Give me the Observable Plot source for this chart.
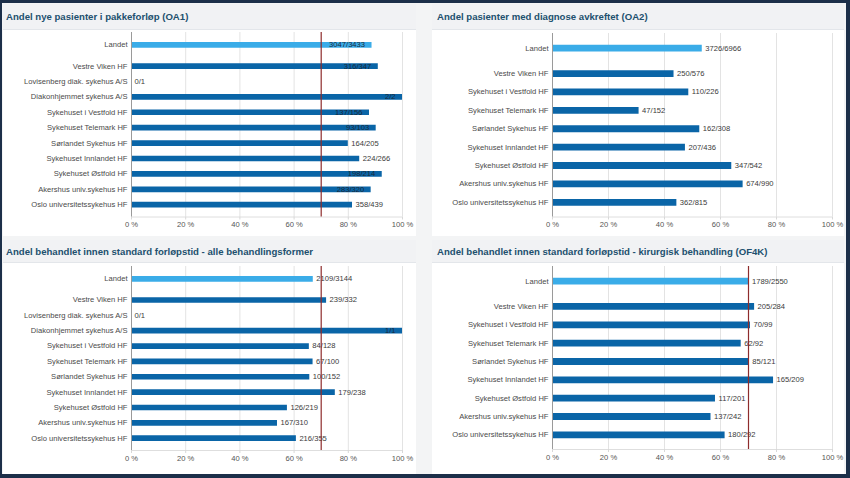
<!DOCTYPE html>
<html>
<head>
<meta charset="utf-8">
<script src="https://cdn.jsdelivr.net/npm/d3@7"></script>
<script src="https://cdn.jsdelivr.net/npm/@observablehq/plot@0.6"></script>
<style>
  body { margin: 0; background: #1c2f49; }
  #frame { position: relative; width: 850px; height: 478px; background: #1c2f49; overflow: hidden; font-family: "Liberation Sans", Arial, sans-serif; }
  .inner { position: absolute; left: 2px; top: 3px; width: 844px; height: 471px; background: #f3f4f5; }
  .panel { position: absolute; background: #ffffff; }
  .title { position: absolute; left: 0; top: 0; right: 0; height: 25px; line-height: 25px; background: #f1f2f4; border-bottom: 1px solid #e3e6ea; color: #21506e; font-weight: bold; font-size: 9.6px; padding-left: 3px; white-space: nowrap; }
  .chart { position: absolute; }
</style>
</head>
<body>
<div id="frame">
  <div class="inner"></div>
  <div class="panel" style="left:3px;top:4px;width:413px;height:232px"><div class="title">Andel nye pasienter i pakkeforløp (OA1)</div></div>
  <div class="panel" style="left:432px;top:4px;width:412px;height:232px"><div class="title" style="padding-left:5px">Andel pasienter med diagnose avkreftet (OA2)</div></div>
  <div class="panel" style="left:3px;top:240px;width:413px;height:234px"><div class="title" style="height:22px;line-height:23px">Andel behandlet innen standard forløpstid - alle behandlingsformer</div></div>
  <div class="panel" style="left:432px;top:240px;width:412px;height:234px"><div class="title" style="height:22px;line-height:23px;padding-left:5px">Andel behandlet innen standard forløpstid - kirurgisk behandling (OF4K)</div></div>
  <div id="c1" class="chart" style="left:0px;top:28px"></div>
  <div id="c2" class="chart" style="left:425px;top:28px"></div>
  <div id="c3" class="chart" style="left:0px;top:262px"></div>
  <div id="c4" class="chart" style="left:425px;top:262px"></div>
</div>
<script>
// ---- Data ----
const unitsA = ["Landet", "Vestre Viken HF", "Lovisenberg diak. sykehus A/S", "Diakonhjemmet sykehus A/S",
  "Sykehuset i Vestfold HF", "Sykehuset Telemark HF", "Sørlandet Sykehus HF", "Sykehuset Innlandet HF",
  "Sykehuset Østfold HF", "Akershus univ.sykehus HF", "Oslo universitetssykehus HF"];
const unitsB = ["Landet", "Vestre Viken HF", "Sykehuset i Vestfold HF", "Sykehuset Telemark HF",
  "Sørlandet Sykehus HF", "Sykehuset Innlandet HF", "Sykehuset Østfold HF", "Akershus univ.sykehus HF",
  "Oslo universitetssykehus HF"];

// OA1: Andel nye pasienter i pakkeforløp
const oa1Num = [3047, 316, 0, 2, 137, 93, 164, 224, 198, 283, 358];
const oa1Den = [3433, 347, 1, 2, 156, 103, 205, 266, 214, 320, 439];
// OA2: Andel pasienter med diagnose avkreftet
const oa2Num = [3726, 250, 110, 47, 162, 207, 347, 674, 362];
const oa2Den = [6966, 576, 226, 152, 308, 436, 542, 990, 815];
// Alle behandlingsformer
const allNum = [2109, 239, 0, 1, 84, 67, 100, 179, 126, 167, 216];
const allDen = [3144, 332, 1, 1, 128, 100, 152, 238, 219, 310, 355];
// OF4K: kirurgisk behandling
const kirNum = [1789, 205, 70, 62, 85, 165, 117, 137, 180];
const kirDen = [2550, 284, 99, 92, 121, 209, 201, 242, 292];

const xTicks = [0, 20, 40, 60, 80, 100];
const target = 70; // målnivå (%)

// ---- Layout constants ----
const GAP = 1.38;  // extra space after "Landet"
const PAD = 0.8;
const colLandet = "#3aace8";
const colUnit = "#0a65a7";

function chart({units, num, den, ref, width, height, mL, mR, mT, mB}) {
  const rows = units.map((u, i) => ({
    name: u, label: num[i] + "/" + den[i], pct: num[i] / den[i] * 100,
    pos: i === 0 ? 0 : GAP + i - 1, land: i === 0
  }));
  const last = rows[rows.length - 1].pos;
  const plotW = width - mL - mR;
  const plotH = height - mT - mB;
  const step = plotH / (last + 2 * PAD);
  rows.forEach(r => {
    const w = r.label.length * 4.1;
    r.inside = r.pct / 100 * plotW + 4 + w > plotW - 6;
  });
  const marks = [
    Plot.ruleX(xTicks.slice(1), {stroke: "#e3e3e3"}),
    Plot.ruleY([last + PAD], {stroke: "#dedede"}),
    Plot.axisX({ticks: xTicks, tickFormat: d => d + " %", tickSize: 3, tickPadding: 2, stroke: "#d8d8d8", fill: "#555", label: null}),
    Plot.ruleY(rows.filter(r => r.land), {y: "pos", x1: 0, x2: "pct", stroke: colLandet, strokeWidth: step * 0.37}),
    Plot.ruleY(rows.filter(r => !r.land), {y: "pos", x1: 0, x2: "pct", stroke: colUnit, strokeWidth: step * 0.37}),
    Plot.ruleX([0], {stroke: "#9a9a9a"}),
    Plot.text(rows, {x: 0, y: "pos", text: "name", textAnchor: "end", dx: -4, fill: "#4a4a4a"}),
    Plot.text(rows.filter(r => !r.inside), {x: "pct", y: "pos", text: "label", textAnchor: "start", dx: 3, fill: "#3a3a3a"}),
    Plot.text(rows.filter(r => r.inside), {x: "pct", y: "pos", text: "label", textAnchor: "end", dx: -7, fill: "#1b2a3a"})
  ];
  if (ref != null) marks.push(Plot.ruleX([ref], {stroke: "#8e2c2c", strokeWidth: 1.2}));
  return Plot.plot({
    width, height, marginLeft: mL, marginRight: mR, marginTop: mT, marginBottom: mB,
    style: {fontFamily: "'Liberation Sans', Arial, sans-serif", fontSize: "7.6px", background: "transparent", color: "#555", overflow: "visible"},
    x: {domain: [0, 100], axis: null, label: null},
    y: {domain: [-PAD, last + PAD], reverse: true, axis: null, label: null},
    marks
  });
}

document.getElementById("c1").append(chart({units: unitsA, num: oa1Num, den: oa1Den, ref: target,
  width: 425, height: 208, mL: 131, mR: 23, mT: 4, mB: 19.5}));
document.getElementById("c2").append(chart({units: unitsB, num: oa2Num, den: oa2Den, ref: null,
  width: 425, height: 208, mL: 127, mR: 18, mT: 5, mB: 19.5}));
document.getElementById("c3").append(chart({units: unitsA, num: allNum, den: allDen, ref: target,
  width: 425, height: 214, mL: 131, mR: 23, mT: 4, mB: 26}));
document.getElementById("c4").append(chart({units: unitsB, num: kirNum, den: kirDen, ref: target,
  width: 425, height: 214, mL: 127, mR: 18, mT: 4, mB: 27}));
</script>
</body>
</html>
